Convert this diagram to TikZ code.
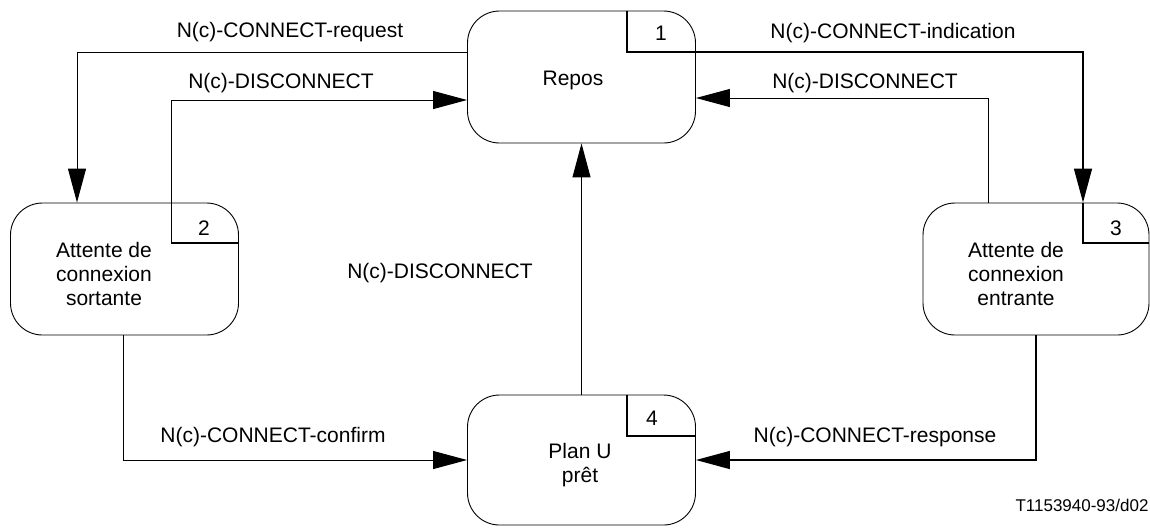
\documentclass[tikz,border=0pt]{standalone}
\usepackage{fontspec}
\setmainfont{Liberation Sans}
\usetikzlibrary{arrows.meta}
\begin{document}
\begin{tikzpicture}[x=0.5pt,y=-0.5pt,
  state/.style={draw, line width=0.45pt, rounded corners=16pt, minimum width=114pt, minimum height=66pt, inner sep=0pt},
  txt/.style={font=\fontsize{10.5pt}{12pt}\selectfont, inner sep=0pt, align=center},
  lab/.style={font=\fontsize{10.5pt}{12pt}\selectfont, inner sep=0pt},
  conn/.style={line width=0.5pt},
  thick conn/.style={line width=0.7pt},
  arr/.style={-{Triangle[length=17pt,width=9pt]}}]
\useasboundingbox (0,0) rectangle (1150,527);
% states
\node[state] (repos) at (581.5,77) {};
\node[state] (box2) at (124.5,269) {};
\node[state, minimum width=113pt] (box3) at (1036,269) {};
\node[state, minimum height=65pt] (box4) at (581.5,460) {};
% state texts
\node[txt] (trepos) at (573,80) {Repos};
\node[txt] (tbox2) at (104,274) {Attente de\\connexion\\sortante};
\node[txt] (tbox3) at (1016,274) {Attente de\\connexion\\entrante};
\node[txt] (tbox4) at (580,465) {Plan U\\prêt};
% numbers
\node[lab] (num1) at (661,33) {1};
\node[lab] (num2) at (204,228) {2};
\node[lab] (num3) at (1116,228) {3};
\node[lab] (num4) at (652,418) {4};
% turning points
\coordinate (rq) at (77,52);
\coordinate (n1) at (627,52);
\coordinate (ind) at (1083,52);
\coordinate (n3) at (1083,243);
\coordinate (n2) at (171,243);
\coordinate (dl) at (171,100);
\coordinate (dr) at (988,98);
\coordinate (n4) at (627,436);
\coordinate (cf) at (123,460);
\coordinate (rs) at (1036,460);
% connectors
\draw[conn, arr] (repos.west |- rq) -- (rq) -- (box2.north -| rq);
\draw[thick conn, arr] (repos.north -| n1) -- (n1) -- (ind) -- (box3.north -| ind);
\draw[thick conn] (box3.north -| n3) -- (n3) -- (box3.east |- n3);
\draw[thick conn] (box2.east |- n2) -- (n2);
\draw[conn, arr] (n2) -- (dl) -- (repos.west |- dl);
\draw[conn, arr] (box3.north -| dr) -- (dr) -- (repos.east |- dr);
\draw[conn, arr] (box4.north) -- (repos.south);
\draw[thick conn] (box4.north -| n4) -- (n4) -- (box4.east |- n4);
\draw[conn, arr] (box2.south -| cf) -- (cf) -- (box4.west |- cf);
\draw[thick conn, arr] (box3.south -| rs) -- (rs) -- (box4.east |- rs);
% connector labels
\node[lab] (lrq) at (290,32) {N(c)-CONNECT-request};
\node[lab] (ldl) at (281,83) {N(c)-DISCONNECT};
\node[lab] (lind) at (893,33) {N(c)-CONNECT-indication};
\node[lab] (ldr) at (865,83) {N(c)-DISCONNECT};
\node[lab] (lmid) at (440,273) {N(c)-DISCONNECT};
\node[lab] (lcf) at (273,437) {N(c)-CONNECT-confirm};
\node[lab] (lrs) at (875,437) {N(c)-CONNECT-response};
\node[font=\fontsize{8.5pt}{10pt}\selectfont, inner sep=0pt] (ref) at (1082,505) {T1153940-93/d02};
\end{tikzpicture}
\end{document}
